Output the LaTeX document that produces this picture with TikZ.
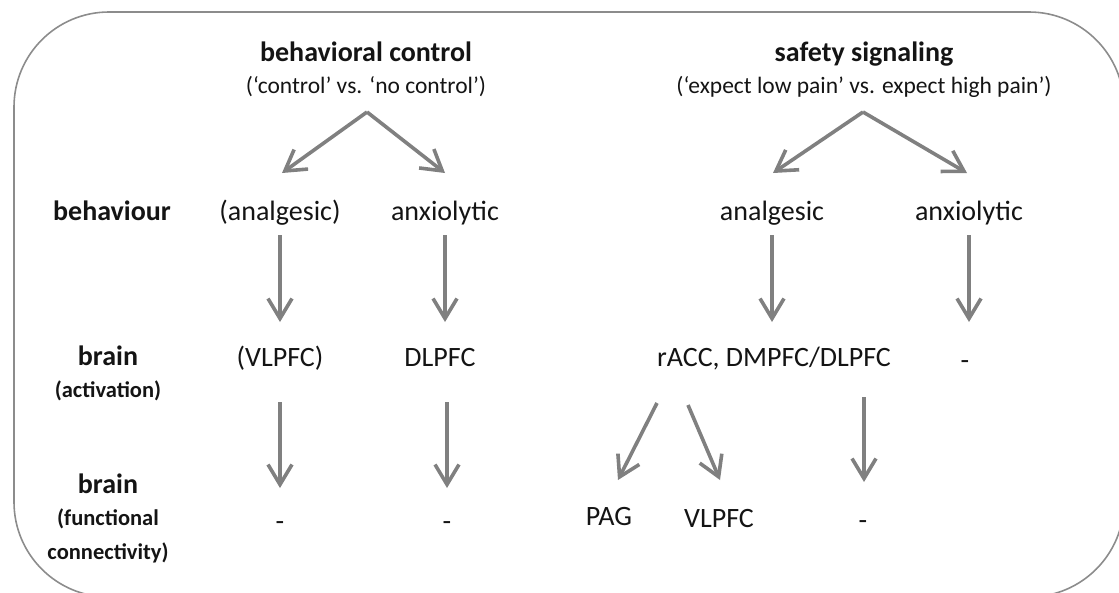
\documentclass[tikz,border=0pt]{standalone}
\usepackage{fontspec}
\setmainfont{Carlito}
\usetikzlibrary{arrows.meta,calc}
\definecolor{arrgray}{HTML}{808080}
\definecolor{boxgray}{HTML}{8C8C8C}
\definecolor{txt}{HTML}{141414}
\tikzset{
  big/.style={inner sep=0pt, text=txt, text height=19pt, text depth=6pt, font=\fontsize{28}{33}\selectfont},
  bigb/.style={inner sep=0pt, text=txt, text height=19pt, text depth=6pt, font=\fontsize{28}{33}\selectfont\bfseries},
  sub/.style={inner sep=0pt, text=txt, font=\fontsize{23.5}{28}\selectfont},
  rowsub/.style={inner sep=0pt, text=txt, font=\fontsize{22.5}{33}\selectfont\bfseries},
  arr/.style={draw=arrgray, line width=3.6pt, -{Straight Barb[length=20pt,width=24pt,line width=3.6pt]}},
}
\begin{document}
\begin{tikzpicture}[x=1pt,y=-1pt]
\useasboundingbox (0,0) rectangle (1119,592);
\clip (0,0) rectangle (1119,592);
\draw[boxgray, line width=1.6pt, rounded corners=95pt] (14,12) rectangle (1124,597);

% titles
\node[bigb] (t1) at (366,54.5) {behavioral control};
\node[sub] (s1) at (366,87) {(‘control’ vs. ‘no control’)};
\node[bigb] (t2) at (864,54.5) {safety signaling};
\node[sub] (s2) at (864,87) {(‘expect low pain’ vs. expect high pain’)};

% row labels
\node[bigb] (r1) at (112,213.5) {behaviour};
\node[bigb] (r2) at (108,358.5) {brain};
\node[rowsub] (r2s) at (108,391) {(activation)};
\node[bigb] (r3) at (108,486.5) {brain};
\node[rowsub] (r3s) at (108,519) {(functional};
\node[rowsub] (r3t) at (108,553) {connectivity)};

% row 1
\node[big] (an1) at (280,213.5) {(analgesic)};
\node[big] (ax1) at (445,213.5) {anxiolytic};
\node[big] (an2) at (772,213.5) {analgesic};
\node[big] (ax2) at (969,213.5) {anxiolytic};

% row 2
\node[big] (vl1) at (280,360) {(VLPFC)};
\node[big] (dl1) at (440,360) {DLPFC};
\node[big] (rac) at (774,360) {rACC, DMPFC/DLPFC};
\node[big] (n1) at (965,363) {-};

% row 3
\node[big] (d1) at (280,524) {-};
\node[big] (d2) at (447,524) {-};
\node[big] (pag) at (609,519) {PAG};
\node[big] (vl2) at (719,521) {VLPFC};
\node[big] (d3) at (863,523) {-};

% top arrows
\coordinate (apex1) at ($(s1.center)+(1,25)$);
\coordinate (apex2) at ($(s2.center)+(-1,25)$);
\draw[arr] (apex1) -- ($(an1.center)+(2,-40.5)$);
\draw[arr] (apex1) -- ($(ax1.center)+(0,-40.5)$);
\draw[arr] (apex2) -- ($(an2.center)+(1,-40.5)$);
\draw[arr] (apex2) -- ($(ax2.center)+(-2,-40.5)$);

% row1 -> row2
\draw[arr, shorten <=21.5pt, shorten >=38pt] (an1.center) -- (an1.center |- vl1.center);
\draw[arr, shorten <=21.5pt, shorten >=38pt] (ax1.center) -- (ax1.center |- dl1.center);
\draw[arr, shorten <=21.5pt, shorten >=38pt] (an2.center) -- (an2.center |- rac.center);
\draw[arr, shorten <=21.5pt, shorten >=38pt] (ax2.center) -- (ax2.center |- rac.center);

% row2 -> row3
\draw[arr, shorten <=42pt, shorten >=36pt] (vl1.center) -- (vl1.center |- d1.center);
\draw[arr, shorten <=42pt, shorten >=36pt] (d2.center |- dl1.center) -- (d2.center);
\draw[arr] ($(rac.center)+(-117,43)$) -- ($(pag.center)+(9,-39)$);
\draw[arr] ($(rac.center)+(-86,45)$) -- ($(vl2.center)+(1,-41)$);
\draw[arr] ($(rac.center)+(90,37)$) -- ($(d3.center)+(1,-41)$);
\end{tikzpicture}
\end{document}
